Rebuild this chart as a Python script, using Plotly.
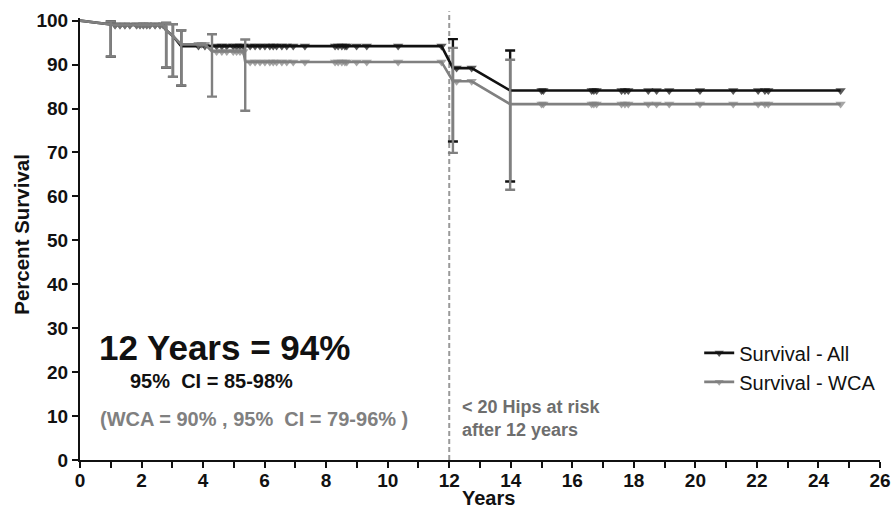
import plotly.graph_objects as go

# ---------------- data ----------------
# Survival - All : every plotted point (time in years, percent survival)
all_time = [0, 1.0, 1.14, 1.30, 1.46, 1.62, 1.84, 1.95, 2.06, 2.17, 2.27, 2.44, 2.60, 2.71,
            2.80, 3.02, 3.29, 3.85, 4.06, 4.44, 4.61, 4.77, 4.98, 5.09, 5.20, 5.31,
            5.53, 5.69, 5.85, 6.01, 6.17, 6.28, 6.39, 6.56, 6.72, 6.93, 7.31,
            8.29, 8.39, 8.51, 8.61, 8.67, 8.99, 9.32, 10.34, 11.75,
            12.12, 12.24, 12.73, 13.98, 15.00, 15.06, 16.63, 16.70, 16.79,
            17.60, 17.71, 17.82, 18.47, 18.74, 19.15, 20.15, 21.23,
            22.04, 22.26, 22.37, 24.72]
all_surv = [100, 99.0, 99.0, 99.0, 99.0, 99.0, 99.0, 99.0, 99.0, 99.0, 99.0, 99.0, 99.0, 99.0,
            97.8, 96.5, 94.2, 94.2, 94.2, 94.2, 94.2, 94.2, 94.2, 94.2, 94.2, 94.2,
            94.2, 94.2, 94.2, 94.2, 94.2, 94.2, 94.2, 94.2, 94.2, 94.2, 94.2,
            94.2, 94.2, 94.2, 94.2, 94.2, 94.2, 94.2, 94.2, 94.2,
            89.2, 89.2, 89.2, 84.1, 84.1, 84.1, 84.1, 84.1, 84.1,
            84.1, 84.1, 84.1, 84.1, 84.1, 84.1, 84.1, 84.1,
            84.1, 84.1, 84.1, 84.1]
# 1 = censored (drawn with a marker), 0 = event / start
all_cens = [0, 0, 1, 1, 1, 1, 1, 1, 1, 1, 1, 1, 1, 1,
            0, 0, 0, 1, 1, 1, 1, 1, 1, 1, 1, 1,
            1, 1, 1, 1, 1, 1, 1, 1, 1, 1, 1,
            1, 1, 1, 1, 1, 1, 1, 1, 1,
            0, 1, 1, 0, 1, 1, 1, 1, 1,
            1, 1, 1, 1, 1, 1, 1, 1,
            1, 1, 1, 1]

# Survival - WCA
wca_time = [0, 1.0, 1.14, 1.30, 1.46, 1.62, 1.84, 1.95, 2.06, 2.17, 2.27, 2.44, 2.60, 2.71,
            2.80, 3.02, 3.29, 3.85, 3.95, 4.06, 4.29, 4.44, 4.61, 4.77, 4.98, 5.09, 5.20, 5.31,
            5.37, 5.53, 5.69, 5.85, 6.01, 6.17, 6.28, 6.39, 6.56, 6.72, 6.93, 7.31,
            8.29, 8.39, 8.51, 8.61, 8.67, 8.99, 9.32, 10.34, 11.75,
            12.12, 12.24, 12.73, 13.98, 15.00, 15.06, 16.63, 16.70, 16.79,
            17.60, 17.71, 17.82, 18.47, 18.74, 19.15, 20.15, 21.23,
            22.04, 22.26, 22.37, 24.72]
wca_surv = [100, 99.0, 99.0, 99.0, 99.0, 99.0, 99.0, 99.0, 99.0, 99.0, 99.0, 99.0, 99.0, 99.0,
            97.8, 96.5, 94.6, 94.6, 94.6, 94.6, 93.0, 93.0, 93.0, 93.0, 93.0, 93.0, 93.0, 93.0,
            90.6, 90.6, 90.6, 90.6, 90.6, 90.6, 90.6, 90.6, 90.6, 90.6, 90.6, 90.6,
            90.6, 90.6, 90.6, 90.6, 90.6, 90.6, 90.6, 90.6, 90.6,
            86.2, 86.2, 86.2, 81.0, 81.0, 81.0, 81.0, 81.0, 81.0,
            81.0, 81.0, 81.0, 81.0, 81.0, 81.0, 81.0, 81.0,
            81.0, 81.0, 81.0, 81.0]
wca_cens = [0, 0, 1, 1, 1, 1, 1, 1, 1, 1, 1, 1, 1, 1,
            0, 0, 0, 1, 1, 1, 0, 1, 1, 1, 1, 1, 1, 1,
            0, 1, 1, 1, 1, 1, 1, 1, 1, 1, 1, 1,
            1, 1, 1, 1, 1, 1, 1, 1, 1,
            0, 1, 1, 0, 1, 1, 1, 1, 1,
            1, 1, 1, 1, 1, 1, 1, 1,
            1, 1, 1, 1]

# 95% confidence intervals at event times
all_ev_time = [1.0, 2.80, 3.02, 3.29, 12.12, 13.98]
all_ev_surv = [99.0, 97.8, 96.5, 94.2, 89.2, 84.1]
all_ci_low = [91.8, 89.3, 87.2, 85.2, 72.5, 63.4]
all_ci_high = [99.8, 99.5, 99.2, 97.8, 95.8, 93.2]

wca_ev_time = [1.0, 2.80, 3.02, 3.29, 4.29, 5.37, 12.12, 13.98]
wca_ev_surv = [99.0, 97.8, 96.5, 94.6, 93.0, 90.6, 86.2, 81.0]
wca_ci_low = [91.8, 89.3, 87.2, 85.2, 82.7, 79.5, 69.9, 61.5]
wca_ci_high = [99.8, 99.5, 99.2, 97.8, 96.9, 95.7, 93.8, 91.1]

x_tick_vals = list(range(0, 27))
x_tick_labels = [str(v) if v % 2 == 0 else "" for v in x_tick_vals]
y_tick_vals = list(range(0, 101, 10))
risk_cutoff_year = 12

# ---------------- styling ----------------
FONT = "Liberation Sans, Arial, Helvetica, sans-serif"
BLACK = "#111111"
GRAY = "#808080"

fig = go.Figure()


def add_series(name, t, s, cens, et, es, lo, hi, color):
    sizes = [9 if c else 0 for c in cens]
    fig.add_trace(go.Scatter(
        x=t, y=s, mode="lines+markers", name=name,
        line=dict(color=color, width=2.6),
        marker=dict(symbol="triangle-down", size=sizes, color=color, line=dict(width=0)),
        cliponaxis=False,
    ))
    fig.add_trace(go.Scatter(
        x=et, y=es, mode="markers", showlegend=False, hoverinfo="skip",
        marker=dict(size=1, color="rgba(0,0,0,0)"),
        error_y=dict(type="data", symmetric=False,
                     array=[h - v for h, v in zip(hi, es)],
                     arrayminus=[v - l for v, l in zip(es, lo)],
                     color=color, thickness=2.4, width=5),
        cliponaxis=False,
    ))


add_series("Survival - All", all_time, all_surv, all_cens,
           all_ev_time, all_ev_surv, all_ci_low, all_ci_high, BLACK)
add_series("Survival - WCA", wca_time, wca_surv, wca_cens,
           wca_ev_time, wca_ev_surv, wca_ci_low, wca_ci_high, GRAY)

fig.add_shape(type="line", xref="x", yref="paper",
              x0=risk_cutoff_year, x1=risk_cutoff_year, y0=0, y1=1.015,
              line=dict(color="#9a9a9a", width=2, dash="5px,3px"), layer="below")

fig.add_annotation(x=0.54, y=25.7, xref="x", yref="y", xanchor="left", yanchor="middle",
                   text="<b>12 Years = 94%</b>", showarrow=False,
                   font=dict(family=FONT, size=35, color=BLACK))
fig.add_annotation(x=1.57, y=18.0, xref="x", yref="y", xanchor="left", yanchor="middle",
                   text="<b>95%\u00a0 CI = 85-98%</b>", showarrow=False,
                   font=dict(family=FONT, size=20, color=BLACK))
fig.add_annotation(x=0.6, y=9.3, xref="x", yref="y", xanchor="left", yanchor="middle",
                   text="<b>(WCA = 90% , 95%\u00a0 CI = 79-96% )</b>", showarrow=False,
                   font=dict(family=FONT, size=20, color=GRAY))
fig.add_annotation(x=12.35, y=9.5, xref="x", yref="y", xanchor="left", yanchor="middle",
                   align="left",
                   text="<b>< 20 Hips at risk<br>after 12 years</b>", showarrow=False,
                   font=dict(family=FONT, size=18, color="#6e6e6e"))

# axis titles (placed as in the reference)
fig.add_annotation(x=0.511, y=-0.087, xref="paper", yref="paper",
                   xanchor="center", yanchor="middle", showarrow=False, borderpad=0,
                   text="<b>Years</b>", font=dict(family=FONT, size=20, color=BLACK))
fig.add_annotation(x=-0.073, y=0.511, xref="paper", yref="paper", textangle=-90,
                   xanchor="center", yanchor="middle", showarrow=False,
                   text="<b>Percent Survival</b>", font=dict(family=FONT, size=20.5, color=BLACK))

axis_common = dict(showgrid=False, zeroline=False, showline=True, linecolor=BLACK,
                   linewidth=2, ticks="outside", ticklen=6, tickwidth=2, tickcolor=BLACK,
                   automargin=False,
                   tickfont=dict(family=FONT, size=19, color=BLACK, weight="bold"))

fig.update_layout(
    width=893, height=510,
    margin=dict(l=80, r=13, t=18, b=50),
    paper_bgcolor="white", plot_bgcolor="white",
    font=dict(family=FONT, color=BLACK),
    xaxis=dict(range=[0, 26], tickvals=x_tick_vals, ticktext=x_tick_labels,
               ticklabelstandoff=-4, **axis_common),
    yaxis=dict(range=[0, 100.6], tickvals=y_tick_vals, **axis_common),
    legend=dict(x=0.774, y=0.2865, xanchor="left", yanchor="top",
                font=dict(family=FONT, size=20, color=BLACK),
                bgcolor="rgba(0,0,0,0)", itemwidth=30, tracegroupgap=0, borderwidth=0),
    showlegend=True,
)

fig.write_html("out.html", config={"displayModeBar": False},
               post_script="document.body.style.margin='0';document.body.style.overflow='hidden';")
